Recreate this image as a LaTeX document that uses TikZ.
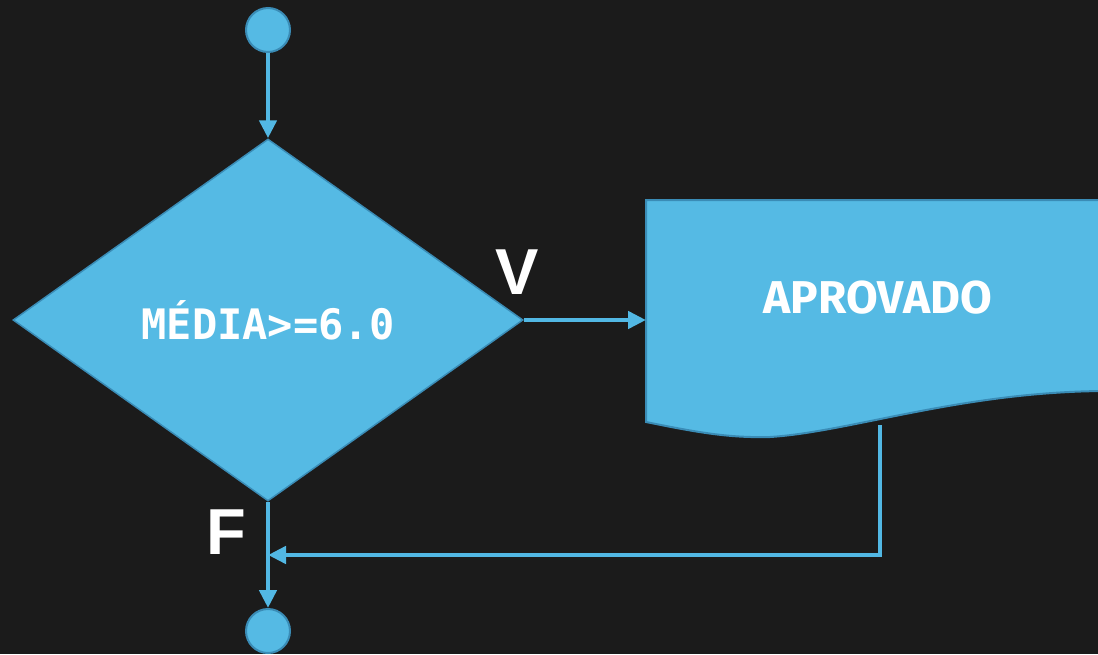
\documentclass[tikz,border=0pt]{standalone}
\usepackage{fontspec}
\usetikzlibrary{shapes.geometric,arrows.meta}
\newfontfamily\monob{DejaVu Sans Mono}
\newfontfamily\sansb{Liberation Sans}
\newfontfamily\docfont{Fira Sans}
\definecolor{fillblue}{HTML}{55BAE4}
\definecolor{edgeblue}{HTML}{3A8CB6}
\definecolor{lineblue}{HTML}{52B8E4}
\definecolor{board}{HTML}{1B1B1B}
\tikzset{
  x=1pt, y=-1pt,
  terminal/.style={circle, fill=fillblue, draw=edgeblue, line width=2pt, minimum size=44pt, inner sep=0pt},
  decision/.style={diamond, fill=fillblue, draw=edgeblue, line width=1.5pt, minimum width=510pt, minimum height=362pt, inner sep=0pt, text=white, font=\monob\bfseries\fontsize{42}{42}\selectfont},
  conn/.style={draw=lineblue, line width=4.5pt, -{Triangle[length=18pt,width=17pt]}},
  lbl/.style={text=white, font=\sansb\bfseries\fontsize{65}{65}\selectfont, inner sep=0pt},
  doclabel/.style={text=white, font=\docfont\bfseries\fontsize{46}{46}\selectfont, inner sep=0pt}
}
\begin{document}
\begin{tikzpicture}
\useasboundingbox (0,0) rectangle (1098,654);
\clip (0,0) rectangle (1098,654);
\fill[board] (0,0) rectangle (1098,654);
% document shape
\path[fill=fillblue, draw=edgeblue, line width=2pt]
  (646,200) -- (1104,200) -- (1104,391)
  .. controls (960,392) and (850,432) .. (770,437)
  .. controls (730,438) and (700,433) .. (646,422) -- cycle;
\node[doclabel] (aprov) at (878,298) {APROVADO};
\coordinate (docL) at (646,320);
\coordinate (docB) at (880,425);
% nodes
\node[terminal] (start) at (268,30) {};
\node[decision] (dec) at (268,320) {MÉDIA>=6.0};
\node[terminal] (stop) at (268,631) {};
\coordinate (join) at (268,555);
\node[lbl] (v) at (517,272) {V};
\node[lbl] (f) at (226,532) {F};
% connectors
\draw[conn] (start) -- (dec.north);
\draw[conn] (dec.east) -- (docL);
\draw[conn] (dec.south) -- (stop.north);
\draw[conn] (docB) |- (join);
\end{tikzpicture}
\end{document}
